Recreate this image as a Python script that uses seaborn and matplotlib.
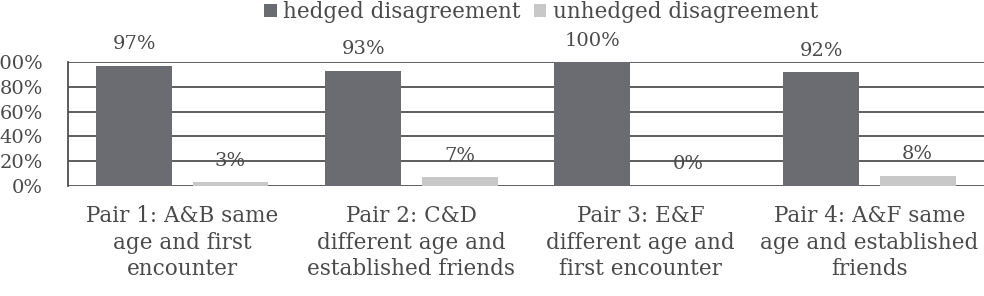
import matplotlib
matplotlib.use("Agg")
import matplotlib.pyplot as plt
import seaborn as sns
import pandas as pd

# data (percent)
pairs = ["Pair 1: A&B same\nage and first\nencounter",
         "Pair 2: C&D\ndifferent age and\nestablished friends",
         "Pair 3: E&F\ndifferent age and\nfirst encounter",
         "Pair 4: A&F same\nage and established\nfriends"]
series = ["hedged disagreement", "unhedged disagreement"]
hedged = [97, 93, 100, 92]
unhedged = [3, 7, 0, 8]
yticks = [0, 20, 40, 60, 80, 100]

df = pd.DataFrame({
    "pair": pairs * 2,
    "kind": [series[0]] * 4 + [series[1]] * 4,
    "pct": hedged + unhedged,
})

sns.set_style("white")
plt.rcParams["font.family"] = ["DejaVu Serif"]
txt = "#4a4a4a"
grid_c = "#505050"

fig = plt.figure(figsize=(9.84, 2.96), dpi=100)
ax = fig.add_axes([0.069, 0.372, 0.931, 0.418])

sns.barplot(data=df, x="pair", y="pct", hue="kind", hue_order=series,
            palette=["#6b6c72", "#c8c8c8"], width=0.84, gap=0.21,
            saturation=1, linewidth=0, ax=ax, legend=True)

ax.set_ylim(0, 100)
ax.set_yticks(yticks)
ax.set_yticklabels([f"{t}%" for t in yticks])
ax.set_axisbelow(True)
ax.yaxis.grid(True, color=grid_c, linewidth=1.3)
ax.xaxis.grid(False)
for side in ["top", "right", "bottom"]:
    ax.spines[side].set_visible(False)
ax.spines["left"].set_color(grid_c)
ax.spines["left"].set_linewidth(1.3)
ax.set_xlabel("")
ax.set_ylabel("")
ax.tick_params(axis="y", length=0, pad=18, labelsize=14, labelcolor=txt)
ax.tick_params(axis="x", length=0, pad=14, labelsize=15.5, labelcolor=txt)
for lab in ax.get_xticklabels():
    lab.set_linespacing(1.25)

for cont in ax.containers:
    ax.bar_label(cont, labels=[f"{v:.0f}%" for v in cont.datavalues],
                 padding=9, fontsize=14, color=txt)

leg = ax.legend(loc="center", bbox_to_anchor=(541 / 984, 1 - 12 / 296),
                bbox_transform=fig.transFigure, ncol=2, frameon=False,
                fontsize=15.5, handlelength=0.6, handleheight=0.6,
                handletextpad=0.3, columnspacing=0.6, borderaxespad=0)
for t in leg.get_texts():
    t.set_color(txt)

fig.savefig("out.png", dpi=100)
